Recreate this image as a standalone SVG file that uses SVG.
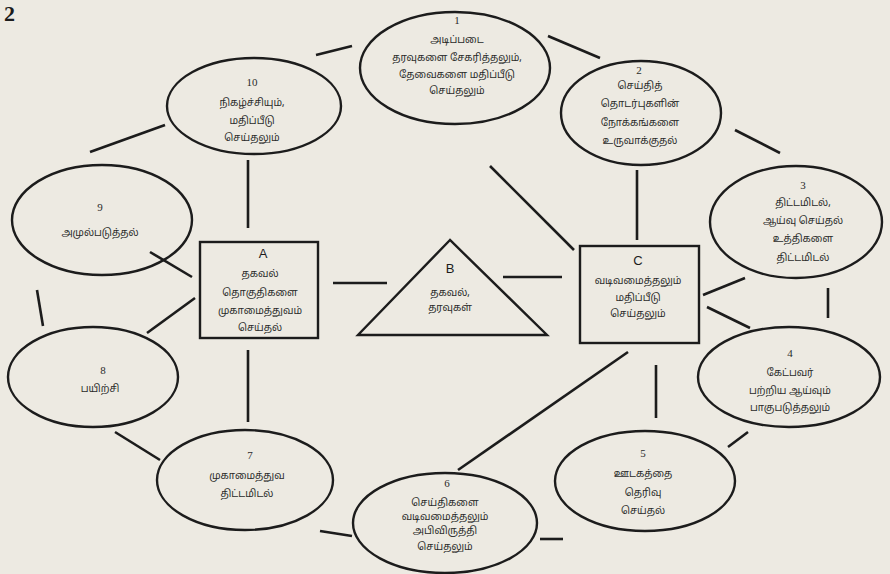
<svg xmlns="http://www.w3.org/2000/svg" width="890" height="574" viewBox="0 0 890 574">
<style>
.sh{fill:none;stroke:#1c1c1c;stroke-width:2.4}
.ln{stroke:#1c1c1c;stroke-width:2.6;fill:none}
.t{font-family:"Noto Sans Tamil","Latha","Noto Sans",sans-serif;font-size:10px;fill:#2a2a2a;text-anchor:middle}
.n{font-family:"Liberation Serif",serif;font-size:11px;fill:#2a2a2a;text-anchor:middle}
.L{font-family:"Liberation Sans",sans-serif;font-size:13px;fill:#1c1c1c;text-anchor:middle}
</style>
<rect width="890" height="574" fill="#edeae2"/>
<text x="4" y="21" font-family="Liberation Serif,serif" font-size="22" font-weight="bold" fill="#1c1c1c">2</text>
<g id="connectors">
<line class="ln" x1="316" y1="55" x2="352" y2="46"/>
<line class="ln" x1="548" y1="36" x2="600" y2="58"/>
<line class="ln" x1="735" y1="130" x2="780" y2="153"/>
<line class="ln" x1="828" y1="288" x2="828" y2="318"/>
<line class="ln" x1="728" y1="447" x2="748" y2="432"/>
<line class="ln" x1="540" y1="539" x2="563" y2="539"/>
<line class="ln" x1="320" y1="531" x2="352" y2="536"/>
<line class="ln" x1="115" y1="432" x2="160" y2="460"/>
<line class="ln" x1="37" y1="290" x2="43" y2="326"/>
<line class="ln" x1="90" y1="152" x2="165" y2="125"/>
<line class="ln" x1="248" y1="160" x2="248" y2="228"/>
<line class="ln" x1="248" y1="350" x2="248" y2="422"/>
<line class="ln" x1="150" y1="252" x2="192" y2="277"/>
<line class="ln" x1="147" y1="333" x2="195" y2="298"/>
<line class="ln" x1="333" y1="283" x2="387" y2="283"/>
<line class="ln" x1="503" y1="277" x2="562" y2="277"/>
<line class="ln" x1="490" y1="166" x2="574" y2="250"/>
<line class="ln" x1="637" y1="170" x2="637" y2="240"/>
<line class="ln" x1="703" y1="295" x2="745" y2="278"/>
<line class="ln" x1="707" y1="307" x2="750" y2="328"/>
<line class="ln" x1="656" y1="365" x2="656" y2="418"/>
<line class="ln" x1="628" y1="352" x2="458" y2="470"/>
</g>
<g id="n1"><ellipse class="sh" cx="455" cy="68" rx="95" ry="56"/>
<text class="n" x="457" y="24">1</text>
<text class="t" x="457" y="43">அடிப்படை</text>
<text class="t" x="457" y="61">தரவுகளை சேகரித்தலும்,</text>
<text class="t" x="457" y="78">தேவைகளை மதிப்பீடு</text>
<text class="t" x="457" y="94">செய்தலும்</text></g>
<g id="n2"><ellipse class="sh" cx="641" cy="113" rx="80" ry="52"/>
<text class="n" x="639" y="74">2</text>
<text class="t" x="640" y="89">செய்தித்</text>
<text class="t" x="640" y="107">தொடர்புகளின்</text>
<text class="t" x="640" y="126">நோக்கங்களை</text>
<text class="t" x="640" y="144">உருவாக்குதல்</text></g>
<g id="n3"><ellipse class="sh" cx="796" cy="222" rx="86" ry="56"/>
<text class="n" x="803" y="189">3</text>
<text class="t" x="803" y="206">திட்டமிடல்,</text>
<text class="t" x="803" y="224">ஆய்வு செய்தல்</text>
<text class="t" x="803" y="242">உத்திகளை</text>
<text class="t" x="803" y="261">திட்டமிடல்</text></g>
<g id="n4"><ellipse class="sh" cx="789" cy="377" rx="91" ry="50"/>
<text class="n" x="790" y="357">4</text>
<text class="t" x="790" y="376">கேட்பவர்</text>
<text class="t" x="790" y="394">பற்றிய ஆய்வும்</text>
<text class="t" x="790" y="411">பாகுபடுத்தலும்</text></g>
<g id="n5"><ellipse class="sh" cx="645" cy="481" rx="90" ry="50"/>
<text class="n" x="643" y="457">5</text>
<text class="t" x="643" y="477">ஊடகத்தை</text>
<text class="t" x="643" y="496">தெரிவு</text>
<text class="t" x="643" y="514">செய்தல்</text></g>
<g id="n6"><ellipse class="sh" cx="445" cy="523" rx="92" ry="50"/>
<text class="n" x="447" y="487">6</text>
<text class="t" x="445" y="506">செய்திகளை</text>
<text class="t" x="445" y="520">வடிவமைத்தலும்</text>
<text class="t" x="445" y="534">அபிவிருத்தி</text>
<text class="t" x="445" y="550">செய்தலும்</text></g>
<g id="n7"><ellipse class="sh" cx="245" cy="480" rx="88" ry="50"/>
<text class="n" x="250" y="459">7</text>
<text class="t" x="247" y="479">முகாமைத்துவ</text>
<text class="t" x="247" y="497">திட்டமிடல்</text></g>
<g id="n8"><ellipse class="sh" cx="93" cy="377" rx="85" ry="50"/>
<text class="n" x="103" y="374">8</text>
<text class="t" x="100" y="392">பயிற்சி</text></g>
<g id="n9"><ellipse class="sh" cx="102" cy="220" rx="90" ry="55"/>
<text class="n" x="100" y="211">9</text>
<text class="t" x="100" y="236">அமுல்படுத்தல்</text></g>
<g id="n10"><ellipse class="sh" cx="254" cy="106" rx="87" ry="48"/>
<text class="n" x="252" y="86">10</text>
<text class="t" x="252" y="106">நிகழ்ச்சியும்,</text>
<text class="t" x="252" y="124">மதிப்பீடு</text>
<text class="t" x="252" y="141">செய்தலும்</text></g>
<g id="nA"><rect class="sh" x="200" y="242" width="118" height="96"/>
<text class="L" x="263" y="258">A</text>
<text class="t" x="260" y="277">தகவல்</text>
<text class="t" x="260" y="296">தொகுதிகளை</text>
<text class="t" x="260" y="314">முகாமைத்துவம்</text>
<text class="t" x="260" y="331">செய்தல்</text></g>
<g id="nB"><polygon class="sh" points="450,240 358,335 547,335"/>
<text class="L" x="450" y="273">B</text>
<text class="t" x="450" y="296">தகவல்,</text>
<text class="t" x="450" y="311">தரவுகள்</text></g>
<g id="nC"><rect class="sh" x="580" y="246" width="119" height="97"/>
<text class="L" x="638" y="265">C</text>
<text class="t" x="638" y="284">வடிவமைத்தலும்</text>
<text class="t" x="638" y="301">மதிப்பீடு</text>
<text class="t" x="638" y="317">செய்தலும்</text></g>
</svg>
